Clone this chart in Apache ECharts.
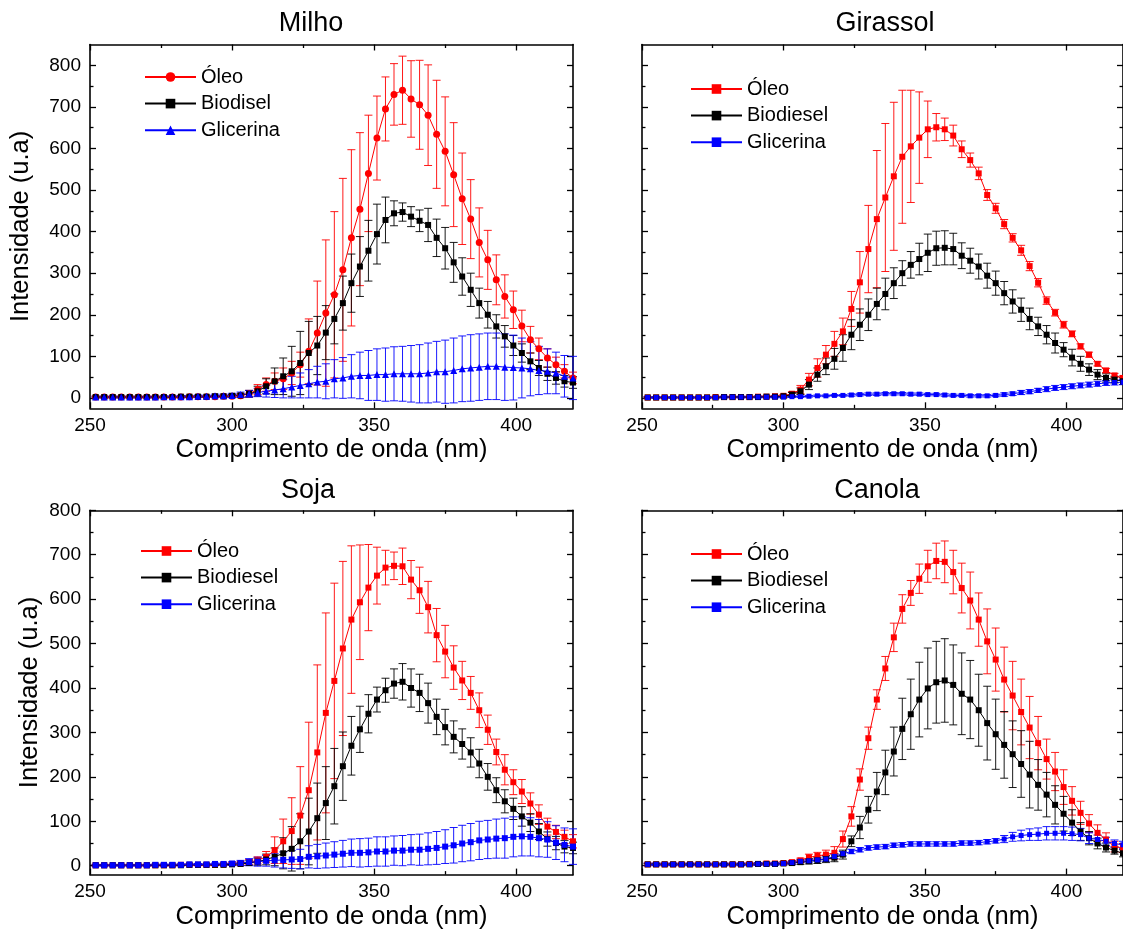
<!DOCTYPE html>
<html><head><meta charset="utf-8">
<script src="https://cdn.jsdelivr.net/npm/echarts@6/dist/echarts.min.js"></script>
<style>html,body{margin:0;padding:0;background:#fff}#c{width:1123px;height:934px}</style>
</head><body><div id="c"></div>
<script>
// ---------------- DATA ----------------
const wavelengths = [252,255,258,261,264,267,270,273,276,279,282,285,288,291,294,297,
  300,303,306,309,312,315,318,321,324,327,330,333,336,339,342,345,348,351,354,357,
  360,363,366,369,372,375,378,381,384,387,390,393,396,399,402,405,408,411,414,417,420];

const xTickMajor = [250,300,350,400];
const xTickMinor = [275,325,375];
const yTickMajor = [0,100,200,300,400,500,600,700,800];
const yTickMinor = [50,150,250,350,450,550,650,750];

const panelTitles = ['Milho','Girassol','Soja','Canola'];
const xAxisTitle = 'Comprimento de onda (nm)';
const yAxisTitle = 'Intensidade (u.a)';
const legendMilho = ['Óleo','Biodisel','Glicerina'];
const legendOthers = ['Óleo','Biodiesel','Glicerina'];

// Milho
const milhoOleo = [2,2,2,2,2,2,2,2,2,2,2,3,3,3,3,4,
 4,5,10,20,32,40,46,60,80,112,156,204,248,308,385,454,540,625,695,730,740,719,705,680,634,593,537,479,430,374,332,284,244,212,173,140,118,96,80,64,48];
const milhoOleoErr = [2,2,2,2,2,2,2,2,2,2,2,2,2,2,2,3,
 3,4,8,12,16,20,26,28,30,78,125,176,200,220,212,184,140,101,77,74,82,92,107,121,130,131,125,110,95,83,71,60,52,45,38,32,26,22,18,16,14];
const milhoBio = [2,2,2,2,2,2,2,2,2,2,3,3,3,3,4,4,
 5,6,10,16,28,40,52,64,84,108,126,157,190,228,276,316,354,394,428,444,447,436,426,416,385,360,326,292,260,228,200,172,148,126,108,88,72,58,48,40,37];
const milhoBioErr = [2,2,2,2,2,2,2,2,2,2,2,2,2,2,2,2,
 3,4,8,12,18,32,44,60,76,76,70,65,60,65,70,72,73,72,55,30,22,24,26,40,45,50,48,45,40,36,32,28,26,24,22,20,18,16,15,14,14];
const milhoGli = [2,2,2,2,2,2,2,2,3,3,3,3,4,4,5,5,
 6,8,10,13,16,19,22,26,30,34,38,40,46,48,52,54,54,56,56,58,58,58,58,60,63,63,66,70,72,74,76,76,74,73,72,70,66,64,60,52,48];
const milhoGliErr = [2,2,2,2,2,2,2,2,2,2,3,3,3,3,4,4,
 5,6,8,10,14,18,22,26,30,34,38,42,46,49,52,56,60,62,64,65,66,68,70,72,73,76,78,79,80,80,80,80,80,78,72,65,58,54,50,50,52];

// Girassol
const girassolOleo = [1,1,1,1,1,1,1,1,2,2,2,2,2,3,3,4,
 5,10,20,44,72,104,130,160,214,278,358,430,482,533,580,605,626,646,651,646,631,598,572,540,488,456,418,385,355,317,277,234,205,176,154,124,104,82,66,54,48];
const girassolOleoErr = [2,2,2,2,2,2,2,2,2,2,2,2,2,2,2,2,
 3,5,10,15,22,22,30,32,42,74,105,165,178,178,160,135,110,68,33,27,25,20,17,15,13,12,11,10,12,11,10,9,8,8,7,6,6,5,5,5,5];
const girassolBio = [1,1,1,1,1,1,1,1,1,2,2,2,2,2,3,3,
 4,8,16,32,56,76,94,120,152,176,200,226,250,276,300,320,334,349,360,361,358,342,330,316,294,276,252,232,212,190,172,152,132,116,97,82,68,56,48,44,40];
const girassolBioErr = [1,1,1,1,1,1,1,1,1,1,1,1,1,1,1,1,
 2,5,8,12,16,20,25,32,36,38,38,38,38,37,30,32,38,45,41,41,38,31,30,30,30,29,28,28,28,26,22,22,24,17,20,18,14,12,10,8,8];
const girassolGli = [1,1,1,1,1,1,1,1,1,2,2,2,2,2,2,2,
 2,3,3,4,5,5,6,6,7,8,9,9,10,10,10,9,9,8,8,7,6,6,5,5,5,6,8,10,13,15,18,21,24,26,28,30,32,34,36,37,38];
const girassolGliErr = [2,2,2,2,2,2,2,2,2,2,2,2,2,2,2,2,
 2,2,2,2,2,2,2,2,3,3,3,3,3,3,3,3,3,3,3,3,3,3,3,3,3,3,4,4,5,5,5,6,6,6,6,6,6,6,6,6,6];

// Soja
const sojaOleo = [1,1,1,1,1,1,1,1,1,1,2,2,2,2,2,3,
 4,5,8,12,20,35,55,78,113,170,255,344,416,489,554,593,626,653,671,675,674,644,620,582,519,482,446,417,389,350,306,256,216,188,167,140,115,88,76,65,55];
const sojaOleoErr = [2,2,2,2,2,2,2,2,2,2,2,2,2,2,2,2,
 3,4,6,8,12,30,50,75,110,153,197,225,220,196,166,129,97,64,39,31,41,43,52,58,60,59,49,43,37,39,33,29,34,28,27,24,22,19,15,15,15];
const sojaBio = [1,1,1,1,1,1,1,1,1,1,1,2,2,2,2,2,
 3,4,6,9,14,20,28,38,55,77,107,141,179,224,270,307,342,374,395,410,414,400,389,366,335,312,290,274,255,230,200,170,145,128,111,97,77,60,51,43,40];
const sojaBioErr = [1,1,1,1,1,1,1,1,1,1,1,1,1,1,1,1,
 2,3,5,8,12,20,35,50,62,75,79,82,85,77,66,52,43,28,27,33,41,43,42,45,40,40,36,34,33,32,30,28,26,24,22,20,18,16,15,14,13];
const sojaGli = [1,1,1,1,1,1,1,2,2,2,2,3,3,3,4,4,
 5,6,8,9,11,12,13,14,15,20,21,23,25,27,29,29,30,32,32,34,34,36,36,38,40,43,46,50,53,57,59,61,62,65,66,65,62,59,52,47,43];
const sojaGliErr = [2,2,2,2,2,2,2,2,2,2,2,2,2,2,2,2,
 4,6,8,10,12,15,18,20,22,25,27,28,29,30,31,32,32,33,33,33,34,34,35,36,37,38,40,41,42,43,43,44,45,45,44,43,42,40,38,38,40];

// Canola
const canolaOleo = [3,3,3,3,3,3,3,3,3,3,3,3,4,4,5,5,
 6,8,12,19,22,25,29,60,111,194,287,374,444,514,578,614,646,674,686,684,661,625,597,554,505,464,419,383,346,311,276,240,212,177,146,119,95,74,59,43,40];
const canolaOleoErr = [3,3,3,3,3,3,3,3,3,3,3,3,3,3,3,3,
 3,4,5,7,8,10,14,18,22,24,25,22,27,32,32,28,33,36,40,47,49,56,64,60,73,71,73,77,74,70,60,45,43,39,32,26,20,18,15,12,10];
const canolaBio = [3,3,3,3,3,3,3,3,3,3,3,3,3,4,4,4,
 5,6,8,10,12,15,18,25,55,86,126,167,210,257,308,341,374,399,413,417,407,387,374,350,321,296,272,251,229,205,182,160,137,117,97,77,62,50,41,34,28];
const canolaBioErr = [2,2,2,2,2,2,2,2,2,2,2,2,2,2,2,2,
 3,4,5,6,7,8,9,10,12,25,30,43,50,55,69,79,84,91,92,94,90,92,88,81,83,79,75,75,75,75,57,50,43,39,29,20,15,12,10,8,8];
const canolaGli = [3,3,3,3,3,3,3,3,3,3,3,3,3,4,4,4,
 5,7,10,11,13,15,21,27,32,36,40,42,43,46,47,49,49,49,49,49,49,51,51,52,54,56,60,65,68,70,71,73,73,73,72,70,62,59,55,50,47];
const canolaGliErr = [3,3,3,3,3,3,3,3,3,3,3,3,3,3,3,3,
 3,3,3,3,3,5,5,5,5,5,5,5,5,5,5,5,5,5,5,5,5,5,5,5,5,5,8,10,12,13,14,15,15,15,15,14,12,10,9,8,8];

// ---------------- LAYOUT / STYLE ----------------
const FONT = "'Liberation Sans', Arial, Helvetica, sans-serif";
const RED = '#ff0000', BLACK = '#000000', BLUE = '#0000ff';

const panels = [
  { title: panelTitles[0], titleX: 311, titleY: 24, grid: {left: 90, top: 44.5, width: 483, height: 363.8},
    yMin: -25, yMax: 850, yLabels: true, yNameGap: 56, legendLeft: 144, legendTop: 66, legendNames: legendMilho,
    series: [
      {name: 'milho_oleo', v: milhoOleo, e: milhoOleoErr, color: RED, symbol: 'circle', size: 7},
      {name: 'milho_bio', v: milhoBio, e: milhoBioErr, color: BLACK, symbol: 'rect', size: 6},
      {name: 'milho_gli', v: milhoGli, e: milhoGliErr, color: BLUE, symbol: 'triangle', size: 7}
    ]},
  { title: panelTitles[1], titleX: 885, titleY: 24, grid: {left: 642, top: 44.5, width: 482, height: 363.8},
    yMin: -25, yMax: 850, yLabels: false, yNameGap: 56, legendLeft: 690, legendTop: 78, legendNames: legendOthers,
    series: [
      {name: 'gir_oleo', v: girassolOleo, e: girassolOleoErr, color: RED, symbol: 'rect', size: 6},
      {name: 'gir_bio', v: girassolBio, e: girassolBioErr, color: BLACK, symbol: 'rect', size: 6},
      {name: 'gir_gli', v: girassolGli, e: girassolGliErr, color: BLUE, symbol: 'rect', size: 5}
    ]},
  { title: panelTitles[2], titleX: 308, titleY: 491, grid: {left: 90, top: 510.3, width: 483, height: 364.3},
    yMin: -20, yMax: 800, yLabels: true, yNameGap: 47, legendLeft: 140, legendTop: 540, legendNames: legendOthers,
    series: [
      {name: 'soja_oleo', v: sojaOleo, e: sojaOleoErr, color: RED, symbol: 'rect', size: 6},
      {name: 'soja_bio', v: sojaBio, e: sojaBioErr, color: BLACK, symbol: 'rect', size: 6},
      {name: 'soja_gli', v: sojaGli, e: sojaGliErr, color: BLUE, symbol: 'rect', size: 6}
    ]},
  { title: panelTitles[3], titleX: 877, titleY: 491, grid: {left: 642, top: 510.3, width: 482, height: 364.3},
    yMin: -20, yMax: 800, yLabels: false, yNameGap: 47, legendLeft: 690, legendTop: 543, legendNames: legendOthers,
    series: [
      {name: 'can_oleo', v: canolaOleo, e: canolaOleoErr, color: RED, symbol: 'rect', size: 6},
      {name: 'can_bio', v: canolaBio, e: canolaBioErr, color: BLACK, symbol: 'rect', size: 6},
      {name: 'can_gli', v: canolaGli, e: canolaGliErr, color: BLUE, symbol: 'rect', size: 5}
    ]}
];

const displayName = {};
panels.forEach(p => p.series.forEach((s, i) => { displayName[s.name] = p.legendNames[i]; }));

const AX_W = 1.6, TK_W = 1.3;
function axisLineStyle(show) {
  return {show: show, onZero: false, lineStyle: {color: '#000', width: AX_W}};
}
function tick(values, len) {
  return {show: true, inside: true, length: len, customValues: values, lineStyle: {color: '#000', width: TK_W}};
}

const grids = [], xAxes = [], yAxes = [], series = [], legends = [], graphics = [];

panels.forEach((p, pi) => {
  grids.push(Object.assign({containLabel: false}, p.grid));
  const xb = {gridIndex: pi, type: 'value', min: 250, max: 420, splitLine: {show: false}, axisPointer: {show: false}};
  xAxes.push(Object.assign({}, xb, {
    position: 'bottom', axisLine: axisLineStyle(true), axisTick: tick(xTickMajor, 6),
    axisLabel: {show: true, customValues: xTickMajor, margin: 8, fontSize: 19, color: '#000', fontFamily: FONT},
    name: xAxisTitle, nameLocation: 'middle', nameGap: 29,
    nameTextStyle: {fontSize: 25.5, color: '#000', fontFamily: FONT}
  }));
  xAxes.push(Object.assign({}, xb, {position: 'bottom', axisLine: axisLineStyle(false), axisTick: tick(xTickMinor, 3.5), axisLabel: {show: false}}));
  xAxes.push(Object.assign({}, xb, {position: 'top', axisLine: axisLineStyle(true), axisTick: tick(xTickMajor, 6), axisLabel: {show: false}}));
  xAxes.push(Object.assign({}, xb, {position: 'top', axisLine: axisLineStyle(false), axisTick: tick(xTickMinor, 3.5), axisLabel: {show: false}}));

  const yb = {gridIndex: pi, type: 'value', min: p.yMin, max: p.yMax, splitLine: {show: false}, axisPointer: {show: false}};
  const yMain = Object.assign({}, yb, {
    position: 'left', axisLine: axisLineStyle(true), axisTick: tick(yTickMajor, 6),
    axisLabel: {show: p.yLabels, customValues: yTickMajor, margin: 9, fontSize: 19, color: '#000', fontFamily: FONT}
  });
  if (p.yLabels) {
    Object.assign(yMain, {name: yAxisTitle, nameLocation: 'middle', nameGap: p.yNameGap,
      nameTextStyle: {fontSize: 25.5, color: '#000', fontFamily: FONT}});
  }
  yAxes.push(yMain);
  yAxes.push(Object.assign({}, yb, {position: 'left', axisLine: axisLineStyle(false), axisTick: tick(yTickMinor, 3.5), axisLabel: {show: false}}));
  yAxes.push(Object.assign({}, yb, {position: 'right', axisLine: axisLineStyle(true), axisTick: tick(yTickMajor, 6), axisLabel: {show: false}}));
  yAxes.push(Object.assign({}, yb, {position: 'right', axisLine: axisLineStyle(false), axisTick: tick(yTickMinor, 3.5), axisLabel: {show: false}}));

  const xi = pi * 4, yi = pi * 4;
  // error bars first (drawn below)
  p.series.forEach(s => {
    series.push({
      type: 'custom', name: s.name + '_err', xAxisIndex: xi, yAxisIndex: yi, silent: true, z: 1,
      data: wavelengths.map((x, i) => [x, s.v[i], s.e[i]]),
      encode: {x: 0, y: 1},
      renderItem: function (params, api) {
        const x = api.value(0), y = api.value(1), e = api.value(2);
        const t = api.coord([x, y + e]);
        const b = api.coord([x, y - e]);
        const hw = 4;
        const st = {stroke: s.color, lineWidth: 1, opacity: 0.9};
        return {type: 'group', children: [
          {type: 'line', shape: {x1: t[0], y1: t[1], x2: b[0], y2: b[1]}, style: st},
          {type: 'line', shape: {x1: t[0] - hw, y1: t[1], x2: t[0] + hw, y2: t[1]}, style: st},
          {type: 'line', shape: {x1: b[0] - hw, y1: b[1], x2: b[0] + hw, y2: b[1]}, style: st}
        ]};
      }
    });
  });
  p.series.forEach(s => {
    series.push({
      type: 'line', name: s.name, xAxisIndex: xi, yAxisIndex: yi, z: 3,
      data: wavelengths.map((x, i) => [x, s.v[i]]),
      symbol: s.symbol, symbolSize: s.size, showSymbol: true,
      lineStyle: {color: s.color, width: 1}, itemStyle: {color: s.color},
      emphasis: {disabled: true}
    });
  });
  legends.push({
    show: true, orient: 'vertical', left: p.legendLeft, top: p.legendTop, padding: 0,
    itemWidth: 51, itemHeight: 12, itemGap: 4.6, selectedMode: false,
    data: p.series.map(s => s.name),
    formatter: name => displayName[name],
    textStyle: {fontSize: 20, lineHeight: 22, color: '#000', fontFamily: FONT}
  });
  graphics.push({
    type: 'text', x: p.titleX, y: p.titleY,
    style: {text: p.title, font: '27px ' + FONT, fill: '#000', textAlign: 'center', textVerticalAlign: 'middle'}
  });
});

const chart = echarts.init(document.getElementById('c'), null, {renderer: 'canvas'});
chart.setOption({
  backgroundColor: '#ffffff',
  animation: false,
  grid: grids, xAxis: xAxes, yAxis: yAxes, series: series, legend: legends,
  graphic: graphics
});
</script></body></html>
